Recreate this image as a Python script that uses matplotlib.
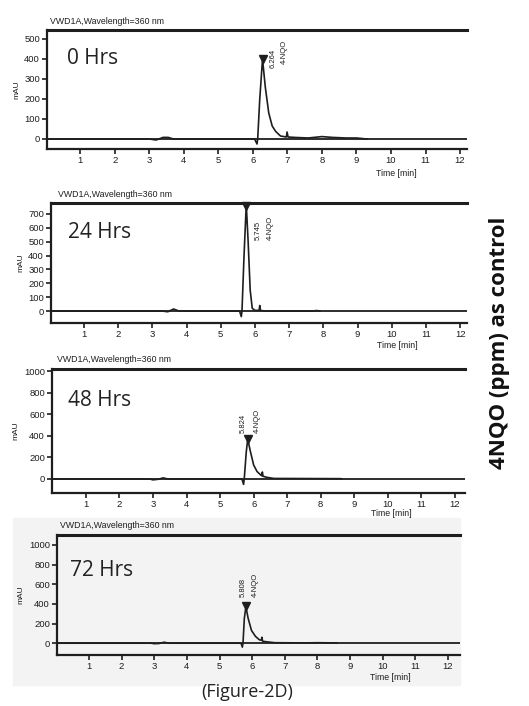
import numpy as np
import matplotlib
matplotlib.use("Agg")
import matplotlib.pyplot as plt
from matplotlib.patches import Rectangle

W, H = 529, 706

# chromatogram traces (time in min, signal in mAU)
t_0h = [0.0, 3.0, 3.2, 3.4, 3.55, 3.7, 4.0, 6.05, 6.12, 6.14, 6.2, 6.28, 6.36, 6.46,
        6.56, 6.66, 6.8, 6.97, 6.99, 7.02, 7.2, 7.6, 8.0, 8.3, 8.7, 9.0, 9.3]
mau_0h = [0, 0, -5, 8, 8, 0, 0, 0, -25, 0, 200, 400, 260, 130,
          65, 38, 15, 10, 35, 10, 8, 5, 12, 8, 5, 5, 0]

t_24h = [0.0, 3.3, 3.45, 3.62, 3.78, 3.9, 5.55, 5.6, 5.62, 5.68, 5.745, 5.8, 5.86,
         5.92, 6.0, 6.12, 6.14, 6.16, 6.3, 7.7, 7.8, 7.9]
mau_24h = [0, 0, -5, 15, 0, 0, 0, -40, 0, 400, 770, 500, 150,
           20, 5, 5, 40, 5, 0, 0, 4, 0]

t_48h = [0.0, 2.9, 3.0, 3.15, 3.3, 3.45, 5.65, 5.7, 5.72, 5.78, 5.824, 5.9, 6.0,
         6.1, 6.2, 6.24, 6.26, 6.28, 6.4, 6.6, 8.6, 8.62]
mau_48h = [0, 0, -8, -3, 10, 0, 0, -50, 0, 250, 370, 260, 130,
           70, 40, 30, 65, 25, 15, 5, 3, 0]

t_72h = [0.0, 2.9, 3.0, 3.15, 3.3, 3.45, 5.66, 5.7, 5.72, 5.76, 5.808, 5.88, 5.98,
         6.1, 6.22, 6.28, 6.3, 6.32, 6.5, 6.7, 7.6, 8.0, 8.5, 8.6]
mau_72h = [0, 0, -5, -3, 10, 0, 0, -40, 0, 250, 370, 250, 130,
           70, 35, 30, 60, 20, 12, 5, 3, 5, 3, 0]

hours = ["0 Hrs", "24 Hrs", "48 Hrs", "72 Hrs"]
peak_rt = ["6.264", "5.745", "5.824", "5.808"]
peak_x = [6.28, 5.745, 5.824, 5.808]
peak_y = [400, 760, 375, 375]
y_ticks = [np.arange(0, 501, 100), np.arange(0, 701, 100),
           np.arange(0, 1001, 200), np.arange(0, 1001, 200)]
traces = [(t_0h, mau_0h), (t_24h, mau_24h), (t_48h, mau_48h), (t_72h, mau_72h)]

# layout in pixels: left, right, top, bottom, xlim, ylim
boxes = [
    (47, 467, 30, 149, (0.04, 12.2), (-50, 545)),
    (51, 467, 203, 323, (0.035, 12.2), (-86, 779)),
    (52, 465, 369, 493, (-0.01, 12.3), (-130, 1020)),
    (57, 460, 535, 655, (0.02, 12.37), (-120, 1100)),
]
# label anchors (data coords) for the rotated peak labels
rt_pos = [(6.58, 355), (6.09, 510), (5.68, 426), (5.73, 470)]
name_pos = [(6.9, 375), (6.44, 510), (6.1, 426), (6.09, 470)]
# pixel positions of texts
title_px = [(50, 21), (58, 195), (57, 359), (60, 525)]
hrs_px = [(67, 58), (68, 233), (68, 400), (70, 570)]
time_px = [(396, 173), (397, 345), (391, 514), (390, 678)]

fig = plt.figure(figsize=(W / 100, H / 100), dpi=100)
plt.rcParams["font.family"] = ["Liberation Sans", "DejaVu Sans"]


def fx(px):
    return px / W


def fy(py):
    return 1 - py / H


# light grey screenshot background behind last panel
fig.patches.append(Rectangle((fx(13), fy(685)), fx(460) - fx(13), fy(518) - fy(685),
                             transform=fig.transFigure, color="#f3f3f3", zorder=-5))

ink = "#1e1e1e"

for i in range(4):
    l, r, t, b, xl, yl = boxes[i]
    ax = fig.add_axes([fx(l), fy(b), fx(r) - fx(l), fy(t) - fy(b)])
    ax.patch.set_alpha(0)
    ax.set_xlim(xl)
    ax.set_ylim(yl)

    ax.axhline(0, color=ink, lw=1.3)
    ax.plot(traces[i][0], traces[i][1], color=ink, lw=1.2)
    ax.plot([peak_x[i]], [peak_y[i]], marker="v", color=ink, markersize=6, clip_on=False)

    ax.text(rt_pos[i][0], rt_pos[i][1], peak_rt[i], rotation=90, ha="center", va="bottom",
            fontsize=5.5, color=ink)
    ax.text(name_pos[i][0], name_pos[i][1], "4-NQO", rotation=90, ha="center", va="bottom",
            fontsize=5.5, color=ink)

    ax.spines["right"].set_visible(False)
    ax.spines["top"].set_linewidth(2.2)
    ax.spines["left"].set_linewidth(1.6)
    ax.spines["bottom"].set_linewidth(1.6)
    for s in ["top", "left", "bottom"]:
        ax.spines[s].set_color(ink)

    ax.set_xticks(range(1, 13))
    ax.set_yticks(y_ticks[i])
    ax.tick_params(axis="both", direction="out", length=3.5, width=1.2, color=ink,
                   labelsize=6.8, labelcolor=ink, pad=1.5)
    ax.set_ylabel("mAU", fontsize=6, color=ink, labelpad=3)

    fig.text(fx(title_px[i][0]), fy(title_px[i][1]), "VWD1A,Wavelength=360 nm",
             fontsize=6.3, color=ink, ha="left", va="center")
    fig.text(fx(hrs_px[i][0]), fy(hrs_px[i][1]), hours[i], fontsize=15,
             family=["Open Sans", "DejaVu Sans"], color="#222222", ha="left", va="center")
    fig.text(fx(time_px[i][0]), fy(time_px[i][1]), "Time [min]", fontsize=6.3,
             color=ink, ha="center", va="center")

fig.text(fx(500), fy(343), "4NQO (ppm) as control", rotation=90, fontsize=16,
         fontweight="bold", family=["Open Sans", "DejaVu Sans"], color="#111111",
         ha="center", va="center")
fig.text(fx(247), fy(692), "(Figure-2D)", fontsize=13,
         family=["Open Sans", "DejaVu Sans"], color="#222222", ha="center", va="center")

fig.savefig("out.png", dpi=100)
